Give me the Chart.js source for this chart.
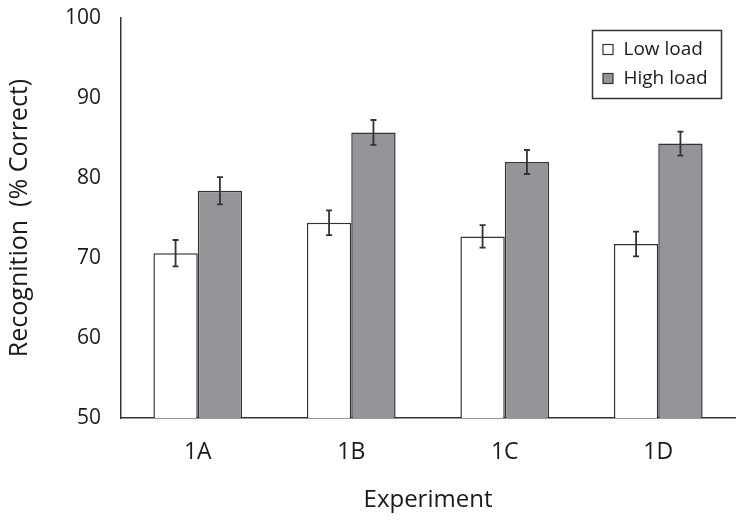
<!DOCTYPE html>
<html>
<head>
<meta charset="utf-8">
<script src="https://cdn.jsdelivr.net/npm/chart.js@4.4.0/dist/chart.umd.min.js"></script>
<style>
  html, body { margin: 0; padding: 0; background: #fff; }
  #wrap { width: 745px; height: 525px; }
</style>
</head>
<body>
<div id="wrap"><canvas id="recChart"></canvas></div>
<script>
const experiments = ['1A', '1B', '1C', '1D'];
const lowLoad = [70.6, 74.4, 72.7, 71.75];
const highLoad = [78.4, 85.7, 82.0, 84.3];
const lowErr = [1.65, 1.55, 1.4, 1.55];
const highErr = [1.7, 1.55, 1.5, 1.5];
const yTicks = [50, 60, 70, 80, 90, 100];

const ink = '#333333';
const txt = '#1a1a1a';
const fontFam = '"Open Sans", "Noto Sans", sans-serif';

// error bars drawn from the y scale
const errorBars = {
  id: 'errorBars',
  afterDatasetsDraw(chart) {
    const ctx = chart.ctx;
    const y = chart.scales.y;
    chart.data.datasets.forEach((ds, i) => {
      const meta = chart.getDatasetMeta(i);
      meta.data.forEach((bar, j) => {
        const v = ds.data[j], e = ds.errors[j];
        const top = y.getPixelForValue(v + e);
        const bot = y.getPixelForValue(v - e);
        ctx.save();
        ctx.strokeStyle = ink;
        ctx.lineWidth = 1.8;
        ctx.beginPath();
        ctx.moveTo(bar.x, top); ctx.lineTo(bar.x, bot);
        ctx.moveTo(bar.x - 3, top); ctx.lineTo(bar.x + 3, top);
        ctx.moveTo(bar.x - 3, bot); ctx.lineTo(bar.x + 3, bot);
        ctx.stroke();
        ctx.restore();
      });
    });
  }
};

// boxed legend inside the plot, top right
const boxLegend = {
  id: 'boxLegend',
  afterDraw(chart) {
    const ctx = chart.ctx;
    const x0 = 592.5, y0 = 30.5, w = 129, h = 68;
    ctx.save();
    ctx.fillStyle = '#fff';
    ctx.fillRect(x0, y0, w, h);
    ctx.strokeStyle = ink;
    ctx.lineWidth = 1.5;
    ctx.strokeRect(x0, y0, w, h);
    ctx.font = '19px ' + fontFam;
    ctx.textBaseline = 'middle';
    chart.data.datasets.forEach((ds, i) => {
      const cy = y0 + 19 + i * 29;
      ctx.fillStyle = ds.backgroundColor;
      ctx.fillRect(x0 + 10.5, cy - 5, 10, 10);
      ctx.lineWidth = 1.2;
      ctx.strokeRect(x0 + 10.5, cy - 5, 10, 10);
      ctx.fillStyle = txt;
      ctx.fillText(ds.label, x0 + 31, cy);
    });
    ctx.restore();
  }
};

new Chart(document.getElementById('recChart'), {
  type: 'bar',
  data: {
    labels: experiments,
    datasets: [
      { label: 'Low load', data: lowLoad, errors: lowErr, backgroundColor: '#ffffff', borderColor: ink, borderWidth: 1.5 },
      { label: 'High load', data: highLoad, errors: highErr, backgroundColor: '#939598', borderColor: ink, borderWidth: 1.5 }
    ]
  },
  options: {
    responsive: true,
    maintainAspectRatio: false,
    animation: false,
    layout: { padding: { top: 18, right: 10, left: 0, bottom: 0 } },
    datasets: { bar: { barPercentage: 1, categoryPercentage: 0.578 } },
    plugins: { legend: { display: false }, tooltip: { enabled: false } },
    scales: {
      x: {
        grid: { display: false },
        border: { display: true, color: ink, width: 1.5 },
        ticks: { color: txt, font: { family: fontFam, size: 23 }, padding: 13 },
        title: { display: true, text: 'Experiment', color: txt, font: { family: fontFam, size: 24 }, padding: { top: 0, bottom: 10 } },
        afterFit(s) { s.height = 107; }
      },
      y: {
        min: 50, max: 100,
        afterBuildTicks(s) { s.ticks = yTicks.map(v => ({ value: v })); },
        grid: { display: false },
        border: { display: true, color: ink, width: 1.5 },
        ticks: { color: txt, font: { family: fontFam, size: 21 }, padding: 12 },
        title: { display: true, text: 'Recognition  (% Correct)', color: txt, font: { family: fontFam, size: 25 }, padding: { top: 5, bottom: 0 } },
        afterFit(s) { s.width = 121; s.paddingTop = 0; s.paddingBottom = 0; }
      }
    }
  },
  plugins: [errorBars, boxLegend]
});
</script>
</body>
</html>
